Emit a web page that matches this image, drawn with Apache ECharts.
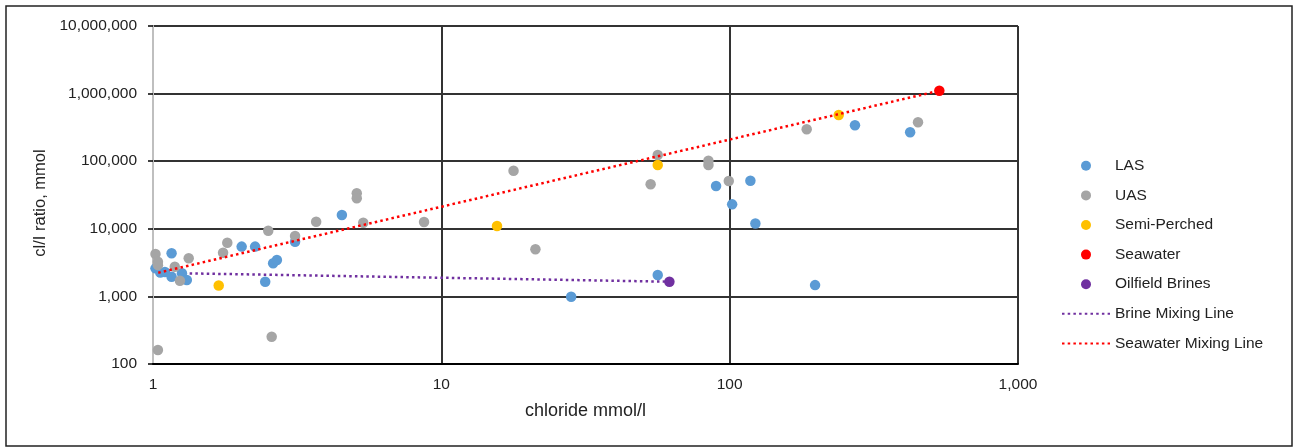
<!DOCTYPE html>
<html>
<head>
<meta charset="utf-8">
<script src="https://cdn.jsdelivr.net/npm/echarts@6/dist/echarts.min.js"></script>
<style>
html,body{margin:0;padding:0;background:#fff;}
#chart{width:1296px;height:447px;}
</style>
</head>
<body>
<div id="chart"></div>
<script>
// ---- data (chloride mmol/l, cl/I ratio) ----
const lasX = [1.02, 1.06, 1.10, 1.16, 1.16, 1.26, 1.31, 2.03, 2.26, 2.45, 2.61, 2.69, 3.11, 4.52, 28.2, 56.3, 89.7, 102, 118, 122.8, 197.8, 272, 422.6];
const lasY = [2600, 2250, 2300, 4350, 1950, 2200, 1750, 5450, 5450, 1650, 3100, 3450, 6450, 16000, 990, 2070, 43000, 23000, 51500, 12000, 1470, 340000, 268000];
const uasX = [1.02, 1.04, 1.04, 1.04, 1.19, 1.24, 1.33, 1.75, 1.81, 2.51, 2.58, 3.11, 3.68, 5.09, 5.09, 5.36, 8.71, 17.8, 21.2, 53.2, 56.3, 84.4, 84.4, 99.3, 185, 450];
const uasY = [4240, 3260, 2900, 161, 2750, 1700, 3660, 4430, 6230, 9380, 253, 7820, 12700, 33500, 28300, 12300, 12600, 72400, 4980, 45500, 123600, 101600, 88000, 50900, 296500, 376000];
const semiX = [1.69, 15.6, 56.3, 238.9];
const semiY = [1450, 11000, 88000, 482000];
const seaX = [533.5];
const seaY = [1104000];
const brineX = [61.8];
const brineY = [1650];
const brineLineX = [1.34, 61.8];
const brineLineY = [2190, 1650];
const seaLineX = [1.043, 533.5];
const seaLineY = [2240, 1104000];
const seriesNames = ['LAS', 'UAS', 'Semi-Perched', 'Seawater', 'Oilfield Brines', 'Brine Mixing Line', 'Seawater Mixing Line'];
const xTitle = 'chloride mmol/l';
const yTitle = 'cl/I ratio, mmol';

const zip = (xs, ys) => xs.map((x, i) => [x, ys[i]]);
const fmt = v => Math.round(v).toString().replace(/\B(?=(\d{3})+(?!\d))/g, ',');
const FONT = 'Liberation Sans';

const chart = echarts.init(document.getElementById('chart'), null, {renderer: 'canvas'});
const scatter = (name, xs, ys, color) => ({
  name, type: 'scatter', data: zip(xs, ys), symbol: 'circle', symbolSize: 10.5,
  itemStyle: {color, opacity: 1}, emphasis: {disabled: true}, z: 2
});
const line = (name, xs, ys, color) => ({
  name, type: 'line', data: zip(xs, ys), symbol: 'none', showSymbol: false,
  lineStyle: {color, width: 2.5, type: [2.5, 3.2]}, itemStyle: {color},
  emphasis: {disabled: true}, z: 5
});

chart.setOption({
  animation: false,
  backgroundColor: '#fff',
  textStyle: {fontFamily: FONT},
  grid: {left: 153, top: 26, right: 278, bottom: 83, containLabel: false},
  xAxis: {
    type: 'log', logBase: 10, min: 1, max: 1000,
    name: xTitle, nameLocation: 'middle', nameGap: 38,
    nameTextStyle: {fontSize: 18, color: '#222', fontFamily: FONT},
    axisLine: {show: true, lineStyle: {color: '#000', width: 2}},
    axisTick: {show: false},
    axisLabel: {fontSize: 15.5, color: '#222', margin: 13, formatter: fmt, fontFamily: FONT},
    splitLine: {show: true, lineStyle: {color: '#333', width: 2}},
    minorTick: {show: false}, minorSplitLine: {show: false}
  },
  yAxis: {
    type: 'log', logBase: 10, min: 100, max: 10000000,
    name: yTitle, nameLocation: 'middle', nameGap: 103, nameRotate: 90,
    nameTextStyle: {fontSize: 16.5, color: '#222', fontFamily: FONT, padding: [0, 16, 0, 0]},
    axisLine: {show: true, lineStyle: {color: '#BFBFBF', width: 2}},
    axisTick: {show: true, inside: false, length: 5, lineStyle: {color: '#000', width: 1.5}},
    axisLabel: {fontSize: 15.5, color: '#222', margin: 16, formatter: fmt, fontFamily: FONT},
    splitLine: {show: true, lineStyle: {color: '#333', width: 2}}
  },
  legend: {
    orient: 'vertical', left: 1056, top: 146,
    data: seriesNames.map((n, i) => i < 5 ? {name: n} : {name: n, itemStyle: {color: 'rgba(0,0,0,0)', borderWidth: 0}}),
    itemWidth: 48, itemHeight: 10, itemGap: 0,
    textStyle: {fontSize: 15.5, color: '#222', lineHeight: 29.6, fontFamily: FONT},
    selectedMode: false
  },
  graphic: [{
    type: 'rect', silent: true, z: -1,
    shape: {x: 6, y: 6, width: 1286, height: 440},
    style: {fill: 'none', stroke: '#222', lineWidth: 1.5}
  }],
  series: [
    scatter(seriesNames[0], lasX, lasY, '#5B9BD5'),
    scatter(seriesNames[1], uasX, uasY, '#A5A5A5'),
    scatter(seriesNames[2], semiX, semiY, '#FFC000'),
    scatter(seriesNames[3], seaX, seaY, '#FF0000'),
    scatter(seriesNames[4], brineX, brineY, '#7030A0'),
    line(seriesNames[5], brineLineX, brineLineY, '#7030A0'),
    line(seriesNames[6], seaLineX, seaLineY, '#FF0000')
  ]
});
</script>
</body>
</html>
